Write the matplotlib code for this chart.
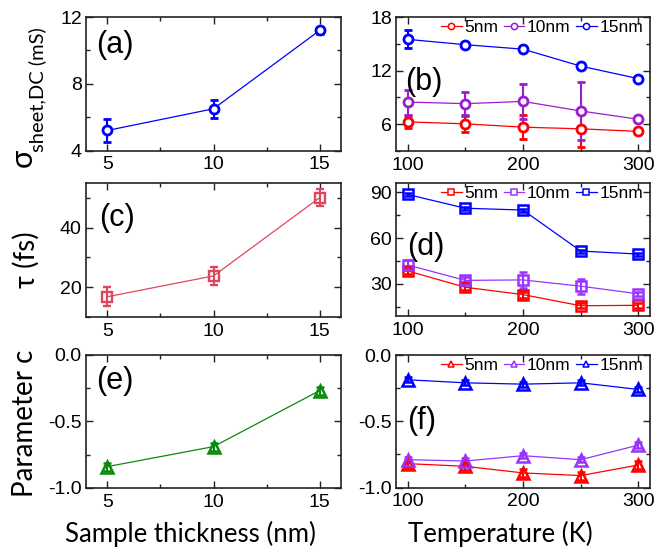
import matplotlib
matplotlib.use('Agg')
import matplotlib.pyplot as plt
from matplotlib.ticker import MultipleLocator
from matplotlib.lines import Line2D

# ---------------- data ----------------
thickness = [5, 10, 15]
sigma_thick = [5.2, 6.5, 11.2]
sigma_thick_err = [0.7, 0.55, 0.2]
tau_thick = [16.8, 23.8, 50.1]
tau_thick_err = [3.2, 3.0, 2.8]
c_thick = [-0.84, -0.69, -0.27]
c_thick_err = [0.03, 0.03, 0.03]

temperature = [100, 150, 200, 250, 300]
series_labels = ['5nm', '10nm', '15nm']

sigma_5nm = [6.26, 6.04, 5.67, 5.48, 5.2]
sigma_5nm_err = [0.7, 0.9, 1.35, 2.0, 0.3]
sigma_10nm = [8.48, 8.3, 8.55, 7.48, 6.55]
sigma_10nm_err = [1.4, 1.3, 2.0, 3.2, 0.3]
sigma_15nm = [15.5, 14.9, 14.4, 12.5, 11.1]
sigma_15nm_err = [1.0, 0.3, 0.3, 0.3, 0.3]

tau_5nm = [38.5, 27.8, 23.0, 15.7, 16.0]
tau_5nm_err = [2.0, 2.0, 2.0, 1.5, 1.5]
tau_10nm = [42.4, 32.3, 32.6, 28.5, 23.5]
tau_10nm_err = [3.0, 2.0, 5.0, 5.0, 1.5]
tau_15nm = [88.5, 79.5, 78.3, 51.5, 49.5]
tau_15nm_err = [1.0, 1.0, 1.0, 1.0, 1.0]

c_5nm = [-0.82, -0.84, -0.89, -0.91, -0.83]
c_5nm_err = [0.03, 0.03, 0.03, 0.03, 0.03]
c_10nm = [-0.79, -0.80, -0.76, -0.79, -0.68]
c_10nm_err = [0.02, 0.02, 0.02, 0.02, 0.02]
c_15nm = [-0.187, -0.21, -0.22, -0.21, -0.26]
c_15nm_err = [0.02, 0.02, 0.02, 0.02, 0.02]

# ---------------- styling ----------------
plt.rcParams['axes.unicode_minus'] = False
plt.rcParams['font.family'] = ['Liberation Sans', 'DejaVu Sans']

LABEL_FONT = ['Lato', 'DejaVu Sans']

RED = '#FF0000'
PURPLE_B = '#9A1ED0'
PURPLE = '#9933FF'
BLUE = '#0000FF'
PINK = '#E0465C'
GREEN = '#0A8A0A'

W, H = 654, 558
fig = plt.figure(figsize=(W / 100, H / 100), dpi=100)


def axes_px(left, top, right, bottom):
    return fig.add_axes([left / W, 1 - bottom / H, (right - left) / W, (bottom - top) / H])


ax_a = axes_px(86, 17, 341, 150.5)
ax_b = axes_px(396, 17, 650, 151)
ax_c = axes_px(86, 183, 341, 317)
ax_d = axes_px(396, 183, 650, 316)
ax_e = axes_px(86, 354.5, 341, 488)
ax_f = axes_px(396, 355, 650, 487.5)


def style(ax, xlim, xmaj, xmin, ylim, ymaj, ymin, fmt=None):
    ax.set_xlim(*xlim)
    ax.set_ylim(*ylim)
    ax.xaxis.set_major_locator(MultipleLocator(xmaj))
    ax.xaxis.set_minor_locator(MultipleLocator(xmin))
    ax.yaxis.set_major_locator(MultipleLocator(ymaj))
    ax.yaxis.set_minor_locator(MultipleLocator(ymin))
    ax.tick_params(which='both', direction='in', top=True, right=True,
                   width=1.0, colors='#222222', labelcolor='black')
    ax.tick_params(which='major', length=5, labelsize=14, pad=3)
    ax.tick_params(which='minor', length=3)
    ax.tick_params(axis='x', pad=4)
    for s in ax.spines.values():
        s.set_linewidth(1.2)
        s.set_color('#222222')
    if fmt:
        ax.yaxis.set_major_formatter(fmt)


eb_kw = dict(elinewidth=1.5, capsize=3, capthick=1.5, lw=0.9)

# (a)
ax_a.errorbar(thickness, sigma_thick, yerr=sigma_thick_err, color=BLUE, marker='o',
              ms=6.5, mew=2.0, mfc='white', **eb_kw)
style(ax_a, (4, 16), 5, 2.5, (4, 12), 4, 2)

# (c)
ax_c.errorbar(thickness, tau_thick, yerr=tau_thick_err, color=PINK, marker='s',
              ms=6.5, mew=1.7, mfc='none', **eb_kw)
style(ax_c, (4, 16), 5, 2.5, (10, 55), 20, 10)

# (e)
ax_e.errorbar(thickness, c_thick, yerr=c_thick_err, color=GREEN, marker='^',
              ms=8.5, mew=1.8, mfc='none', **eb_kw)
style(ax_e, (4, 16), 5, 2.5, (-1.0, 0.0), 0.5, 0.25, fmt='{x:.1f}')

# (b)
cols_b = [RED, PURPLE_B, BLUE]
for vals, errs, col in zip([sigma_5nm, sigma_10nm, sigma_15nm],
                           [sigma_5nm_err, sigma_10nm_err, sigma_15nm_err], cols_b):
    ax_b.errorbar(temperature, vals, yerr=errs, color=col, marker='o', ms=6.5, mew=2.0,
                  mfc='white', **eb_kw)
style(ax_b, (90, 310), 100, 50, (3, 18), 6, 3)

# (d)
cols_d = [RED, PURPLE, BLUE]
for vals, errs, col in zip([tau_5nm, tau_10nm, tau_15nm],
                           [tau_5nm_err, tau_10nm_err, tau_15nm_err], cols_d):
    ax_d.errorbar(temperature, vals, yerr=errs, color=col, marker='s', ms=7, mew=1.8,
                  mfc='none', **eb_kw)
style(ax_d, (90, 310), 100, 50, (9, 96), 30, 15)

# (f)
for vals, errs, col in zip([c_5nm, c_10nm, c_15nm],
                           [c_5nm_err, c_10nm_err, c_15nm_err], cols_d):
    ax_f.errorbar(temperature, vals, yerr=errs, color=col, marker='^', ms=8, mew=1.8,
                  mfc='none', **eb_kw)
style(ax_f, (90, 310), 100, 50, (-1.0, 0.0), 0.5, 0.25, fmt='{x:.1f}')


def legend(ax, marker, cols):
    handles = [Line2D([], [], color=c, marker=marker, ms=4.5, mew=1.1, mfc='white', lw=0.9)
               for c in cols]
    ax.legend(handles, series_labels, loc='upper right', bbox_to_anchor=(1.0, 1.03),
              ncol=3, frameon=False, fontsize=12.5, handlelength=1.2, handletextpad=0.15,
              columnspacing=0.3, borderaxespad=0.2, borderpad=0.2)


legend(ax_b, 'o', cols_b)
legend(ax_d, 's', cols_d)
legend(ax_f, '^', cols_d)

# panel labels
for ax, lab, x, y in [(ax_a, '(a)', 0.04, 0.79), (ax_b, '(b)', 0.035, 0.515),
                      (ax_c, '(c)', 0.05, 0.74), (ax_d, '(d)', 0.045, 0.52),
                      (ax_e, '(e)', 0.04, 0.80), (ax_f, '(f)', 0.045, 0.50)]:
    ax.text(x, y, lab, transform=ax.transAxes, ha='left', va='center', fontsize=22)

# axis labels
fig.text(190 / W, 1 - 534 / H, 'Sample thickness (nm)', ha='center', va='center',
         fontsize=18.5, family=LABEL_FONT)
fig.text(500 / W, 1 - 534 / H, 'Temperature (K)', ha='center', va='center',
         fontsize=18.5, family=LABEL_FONT)
fig.text(25 / W, 1 - 423 / H, 'Parameter c', ha='center', va='center', rotation=90,
         fontsize=20, family=LABEL_FONT)
fig.text(26 / W, 1 - 260 / H, 'τ (fs)', ha='center', va='center', rotation=90,
         fontsize=20, family=LABEL_FONT)
fig.text(23 / W, 1 - 167 / H, 'σ', ha='center', va='bottom', rotation=90,
         fontsize=22, family=LABEL_FONT)
fig.text(37 / W, 1 - 152 / H, 'sheet,DC (mS)', ha='center', va='bottom', rotation=90,
         fontsize=14.5, family=LABEL_FONT)

fig.savefig('out.png', dpi=100)
